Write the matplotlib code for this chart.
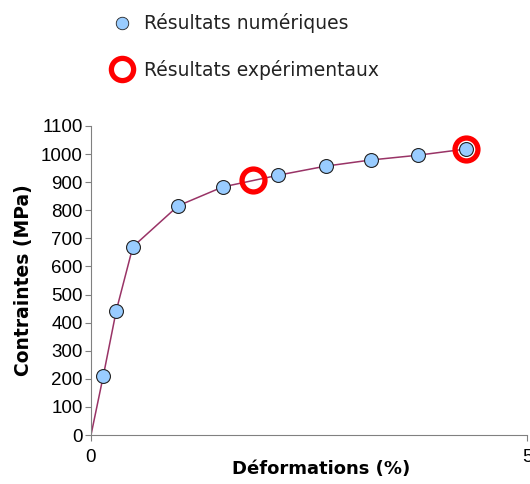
"""Courbe contrainte-deformation: resultats numeriques vs experimentaux."""
import matplotlib
matplotlib.use("Agg")
import matplotlib.pyplot as plt
from matplotlib.lines import Line2D

# Resultats numeriques (deformation %, contrainte MPa)
num_strain = [0.0, 0.14, 0.29, 0.48, 1.0, 1.51, 2.15, 2.69, 3.21, 3.75, 4.30]
num_stress = [0, 209, 443, 670, 816, 883, 925, 957, 979, 996, 1018]

# Resultats experimentaux
exp_strain = [1.86, 4.30]
exp_stress = [908, 1018]

y_ticks = list(range(0, 1101, 100))
x_ticks = [0, 5]

W, H = 530, 484
fig = plt.figure(figsize=(W / 100, H / 100), dpi=100)
ax = fig.add_axes([91 / W, (H - 435) / H, (527 - 91) / W, (435 - 126) / H])

ax.plot(num_strain, num_stress, color="#993366", lw=1.1, zorder=2)
ax.plot(num_strain[1:], num_stress[1:], ls="none", marker="o", ms=10,
        mfc="#99CCFF", mec="#222222", mew=0.8, zorder=4)
ax.plot(exp_strain, exp_stress, ls="none", marker="o", ms=16.5,
        mfc="none", mec="#FF0000", mew=3.8, zorder=3)

ax.set_xlim(0, 5)
ax.set_ylim(0, 1100)
ax.set_xticks(x_ticks)
ax.set_yticks(y_ticks)
for side in ("top", "right"):
    ax.spines[side].set_visible(False)
for side in ("left", "bottom"):
    ax.spines[side].set_color("#808080")
ax.tick_params(direction="out", length=4, color="#808080", width=0.8,
               labelsize=13.5, pad=2)
ax.tick_params(axis="x", pad=6)
for lab in ax.get_xticklabels() + ax.get_yticklabels():
    lab.set_family("Liberation Sans")

ax.set_ylabel("Contraintes (MPa)", fontsize=13.5, fontweight="bold", va="center")
ax.yaxis.set_label_coords(-0.154, 0.5)
ax.set_xlabel("Déformations (%)", fontsize=13, fontweight="bold", va="center")
ax.xaxis.set_label_coords(0.527, -0.11)

handles = [
    Line2D([], [], ls="none", marker="o", ms=9, mfc="#99CCFF",
           mec="#222222", mew=0.6),
    Line2D([], [], ls="none", marker="o", ms=16, mfc="none",
           mec="#FF0000", mew=3.8),
]
labels = ["Résultats numériques", "Résultats expérimentaux"]
fig.legend(handles, labels, loc="upper left", bbox_to_anchor=(103 / W, 1 - 4 / H),
           frameon=False, fontsize=13.5, borderpad=0, handlelength=1.0,
           handletextpad=0.7, labelspacing=1.4, labelcolor="#222222")

fig.savefig("out.png", dpi=100)
